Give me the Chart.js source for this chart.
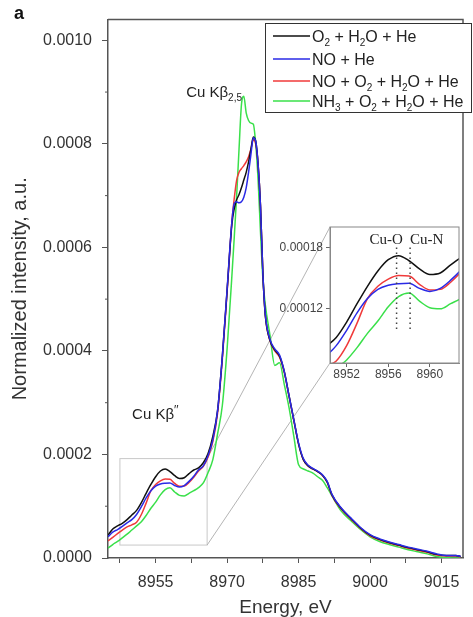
<!DOCTYPE html>
<html>
<head>
<meta charset="utf-8">
<script src="https://cdn.jsdelivr.net/npm/chart.js@4.4.1/dist/chart.umd.min.js"></script>
<style>
  html, body { margin: 0; padding: 0; background: #fff; }
  #wrap { position: relative; width: 473px; height: 617px; }
  #main, #inset { position: absolute; left: 0; top: 0; }
</style>
</head>
<body>
<div id="wrap">
  <canvas id="main" width="473" height="617"></canvas>
  <canvas id="inset" width="200" height="175"></canvas>
</div>
<script>
// Energie (eV)
const energy = [
  8945, 8946, 8947, 8948, 8949, 8950, 8951, 8952, 8953, 8954,
  8955, 8956, 8957, 8958, 8959, 8960, 8961, 8962, 8963, 8964,
  8965, 8966, 8967, 8968, 8969, 8970, 8971, 8971.5, 8972, 8972.5,
  8973, 8973.5, 8974, 8974.5, 8975, 8975.5, 8976, 8976.5, 8977, 8977.5,
  8978, 8979, 8980, 8981, 8982, 8983, 8984, 8985, 8986, 8987,
  8988, 8989, 8990, 8991, 8992, 8994, 8996, 8998, 9000, 9002,
  9004, 9006, 9008, 9010, 9012, 9014, 9016, 9018, 9019
];

// Intensités normalisées, en unités de 1e-4
const o2h2o = [
  0.44, 0.56, 0.62, 0.67, 0.74, 0.83, 0.92, 1.07, 1.25, 1.42,
  1.57, 1.68, 1.72, 1.67, 1.59, 1.535, 1.55, 1.63, 1.70, 1.74,
  1.84, 2.02, 2.35, 2.85, 3.90, 5.17, 6.45, 6.75, 6.92, 7.02,
  7.15, 7.30, 7.45, 7.65, 7.90, 8.13, 8.05, 7.60, 6.80, 5.50,
  4.70, 4.20, 4.02, 3.90, 3.60, 3.13, 2.67, 2.20, 1.90, 1.78,
  1.72, 1.67, 1.60, 1.47, 1.22, 0.95, 0.76, 0.58, 0.44, 0.36,
  0.30, 0.25, 0.20, 0.16, 0.12, 0.07, 0.05, 0.05, 0.03
];
const noHe = [
  0.41, 0.50, 0.55, 0.61, 0.68, 0.74, 0.84, 0.99, 1.16, 1.30,
  1.39, 1.43, 1.445, 1.45, 1.40, 1.37, 1.40, 1.48, 1.58, 1.70,
  1.78, 1.98, 2.28, 2.85, 3.90, 5.20, 6.50, 6.85, 6.88, 6.86,
  6.88, 6.97, 7.15, 7.45, 7.80, 8.12, 8.05, 7.60, 6.80, 5.50,
  4.72, 4.22, 4.04, 3.92, 3.60, 3.13, 2.67, 2.22, 1.92, 1.79,
  1.73, 1.68, 1.61, 1.48, 1.23, 0.96, 0.77, 0.59, 0.45, 0.37,
  0.31, 0.26, 0.21, 0.17, 0.13, 0.08, 0.05, 0.05, 0.03
];
const noO2h2o = [
  0.33, 0.40, 0.47, 0.54, 0.60, 0.64, 0.69, 0.84, 1.06, 1.30,
  1.42, 1.49, 1.525, 1.52, 1.44, 1.385, 1.39, 1.46, 1.56, 1.68,
  1.77, 1.95, 2.25, 2.80, 3.85, 5.15, 6.50, 6.95, 7.30, 7.45,
  7.52, 7.58, 7.65, 7.75, 7.90, 8.08, 8.00, 7.60, 6.80, 5.50,
  4.70, 4.20, 4.00, 3.88, 3.58, 3.12, 2.65, 2.20, 1.90, 1.78,
  1.72, 1.67, 1.60, 1.46, 1.21, 0.94, 0.75, 0.57, 0.43, 0.35,
  0.29, 0.24, 0.19, 0.15, 0.11, 0.06, 0.04, 0.04, 0.02
];
const nh3 = [
  0.19, 0.26, 0.32, 0.39, 0.46, 0.54, 0.62, 0.70, 0.82, 0.96,
  1.08, 1.22, 1.32, 1.355, 1.275, 1.21, 1.20, 1.25, 1.30, 1.36,
  1.45, 1.65, 1.90, 2.40, 2.95, 4.05, 5.45, 6.20, 7.00, 7.90,
  8.75, 8.92, 8.60, 8.45, 8.40, 8.38, 8.00, 7.30, 6.30, 5.40,
  4.90, 4.30, 3.72, 3.77, 3.35, 2.90, 2.35, 1.80, 1.72, 1.68,
  1.64, 1.57, 1.50, 1.36, 1.20, 0.90, 0.72, 0.55, 0.41, 0.32,
  0.26, 0.21, 0.16, 0.12, 0.08, 0.03, 0.01, 0.00, 0.00
];

const seriesNames = ['O₂ + H₂O + He', 'NO + He', 'NO + O₂ + H₂O + He', 'NH₃ + O₂ + H₂O + He'];
const seriesColors = ['#111111', '#2a2ae6', '#f03a3a', '#3ae04a'];
const drawOrder = [1, 0, 2, 3]; // le bleu passe au-dessus

// Graduations
const xTicks = [8947.5, 8955, 8962.5, 8970, 8977.5, 8985, 8992.5, 9000, 9007.5, 9015];
const xTickLabels = [8955, 8970, 8985, 9000, 9015];
const yTicks = [0, 0.0002, 0.0004, 0.0006, 0.0008, 0.0010];
const yTickLabels = ['0.0000', '0.0002', '0.0004', '0.0006', '0.0008', '0.0010'];
const yMinorTicks = [0.0001, 0.0003, 0.0005, 0.0007, 0.0009];
const insetXTicks = [8952, 8956, 8960];
const insetYTicks = [0.00012, 0.00018];
const insetYTickLabels = ['0.00012', '0.00018'];

const fontSans = '"Liberation Sans", Arial, sans-serif';
const fontSerif = '"Liberation Serif", "Times New Roman", serif';
Chart.defaults.font.family = fontSans;

// position de l'encart (pixels de la page)
const insetBox = { left: 330, top: 227, right: 459, bottom: 363 };
// rectangle de zoom sur la figure principale (unités des données)
const zoomBox = { x0: 8947.5, x1: 8965.8, y0: 0.000025, y1: 0.000192 };

const peakLabels = [
  { x: 8961.4, y: 0.00089, parts: [{ text: 'Cu Kβ' }, { text: '2,5', sub: true }] },
  { x: 8950.05, y: 0.000269, parts: [{ text: 'Cu Kβ' }, { text: '′′', sup: true }] }
];
const markers = [
  { x: 8956.8, label: 'Cu-O', labelX: 8954.2 },
  { x: 8958.1, label: 'Cu-N', labelX: 8958.1 }
];

function toParts(str) {
  const subs = { '₂': '2', '₃': '3' };
  const parts = [];
  for (const ch of str) {
    const isSub = ch in subs;
    const t = isSub ? subs[ch] : ch;
    const last = parts[parts.length - 1];
    if (last && !!last.sub === isSub) last.text += t;
    else parts.push({ text: t, sub: isSub });
  }
  return parts;
}

function drawRich(ctx, parts, x, y, size, family) {
  ctx.textBaseline = 'alphabetic';
  ctx.textAlign = 'left';
  parts.forEach(p => {
    const s = p.sub ? Math.round(size * 0.65) : p.sup ? Math.round(size * 0.8) : size;
    ctx.font = s + 'px ' + family;
    const dy = p.sub ? size * 0.28 : p.sup ? -size * 0.3 : 0;
    ctx.fillText(p.text, x, y + dy);
    x += ctx.measureText(p.text).width;
  });
}

const seriesData = [o2h2o, noHe, noO2h2o, nh3];
function makeDatasets(width) {
  return seriesData.map((vals, i) => ({
    label: seriesNames[i],
    data: energy.map((e, j) => ({ x: e, y: vals[j] * 1e-4 })),
    borderColor: seriesColors[i],
    backgroundColor: seriesColors[i],
    borderWidth: width,
    pointRadius: 0,
    cubicInterpolationMode: 'monotone',
    order: drawOrder[i]
  }));
}

const mainDecor = {
  id: 'mainDecor',
  beforeDatasetsDraw(chart) {
    const { ctx, scales: { x, y } } = chart;
    const bx0 = x.getPixelForValue(zoomBox.x0), bx1 = x.getPixelForValue(zoomBox.x1);
    const by0 = y.getPixelForValue(zoomBox.y0), by1 = y.getPixelForValue(zoomBox.y1);
    ctx.save();
    ctx.strokeStyle = '#c8c8c8';
    ctx.lineWidth = 1;
    ctx.strokeRect(bx0, by1, bx1 - bx0, by0 - by1);
    ctx.strokeStyle = '#b4b4b4';
    ctx.beginPath();
    ctx.moveTo(bx1, by1); ctx.lineTo(insetBox.left, insetBox.top);
    ctx.moveTo(bx1, by0); ctx.lineTo(insetBox.left, insetBox.bottom);
    ctx.stroke();
    ctx.restore();
  },
  afterDraw(chart) {
    const { ctx, chartArea: a, scales: { x, y } } = chart;
    ctx.save();
    // cadre haut et droit
    ctx.strokeStyle = '#555';
    ctx.lineWidth = 1.5;
    ctx.beginPath();
    ctx.moveTo(a.left, a.top); ctx.lineTo(a.right, a.top); ctx.lineTo(a.right, a.bottom);
    ctx.stroke();
    // petites graduations y
    ctx.lineWidth = 1;
    yMinorTicks.forEach(v => {
      const py = y.getPixelForValue(v);
      ctx.beginPath(); ctx.moveTo(a.left - 3, py); ctx.lineTo(a.left, py); ctx.stroke();
    });
    // étiquettes des pics
    ctx.fillStyle = '#222';
    peakLabels.forEach(l => drawRich(ctx, l.parts, x.getPixelForValue(l.x), y.getPixelForValue(l.y), 15, fontSans));
    // légende
    const lx = 265, ly = 23, lw = 207, lh = 90;
    ctx.fillStyle = '#fff';
    ctx.fillRect(lx, ly, lw, lh);
    ctx.strokeStyle = '#333';
    ctx.lineWidth = 1;
    ctx.strokeRect(lx + 0.5, ly + 0.5, lw - 1, lh - 1);
    const rows = [42, 65, 87, 107];
    seriesNames.forEach((name, i) => {
      ctx.strokeStyle = seriesColors[i];
      ctx.lineWidth = 1.5;
      ctx.beginPath(); ctx.moveTo(273, rows[i] - 6); ctx.lineTo(310, rows[i] - 6); ctx.stroke();
      ctx.fillStyle = '#222';
      drawRich(ctx, toParts(name), 312, rows[i], 16, fontSans);
    });
    // lettre du panneau
    ctx.fillStyle = '#111';
    ctx.font = 'bold 18px ' + fontSans;
    ctx.fillText('a', 14, 19);
    ctx.restore();
  }
};

new Chart(document.getElementById('main'), {
  type: 'line',
  data: { datasets: makeDatasets(1.5) },
  options: {
    responsive: false,
    animation: false,
    devicePixelRatio: 1,
    layout: { padding: { top: 18, right: 10, left: 0, bottom: 0 } },
    plugins: { legend: { display: false }, tooltip: { enabled: false } },
    scales: {
      x: {
        type: 'linear', min: 8945, max: 9019.5,
        afterBuildTicks: s => { s.ticks = xTicks.map(v => ({ value: v })); },
        afterFit: s => { s.height = 59; },
        ticks: {
          font: { size: 16 }, color: '#333', padding: 10, maxRotation: 0, autoSkip: false,
          callback: v => xTickLabels.includes(v) ? String(v) : ''
        },
        grid: { drawOnChartArea: false, tickLength: 5, tickColor: '#555' },
        border: { color: '#555', width: 1.5 },
        title: { display: true, text: 'Energy, eV', color: '#333',
          font: { size: 19, lineHeight: 1 }, padding: { top: 0, bottom: 0 } }
      },
      y: {
        min: 0, max: 0.00104,
        afterBuildTicks: s => { s.ticks = yTicks.map(v => ({ value: v })); },
        afterFit: s => { s.width = 108; },
        ticks: { font: { size: 16 }, color: '#333', padding: 10,
          callback: (v, i) => yTickLabels[i] },
        grid: { drawOnChartArea: false, tickLength: 6, tickColor: '#555' },
        border: { color: '#555', width: 1.5 },
        title: { display: true, text: 'Normalized intensity, a.u.', color: '#333',
          font: { size: 20, lineHeight: 1 }, padding: { top: 10, bottom: 0 } }
      }
    }
  },
  plugins: [mainDecor]
});

// Encart
const insetCanvas = document.getElementById('inset');
insetCanvas.style.left = (insetBox.left - 60) + 'px';
insetCanvas.style.top = (insetBox.top - 12) + 'px';

const insetDecor = {
  id: 'insetDecor',
  afterDraw(chart) {
    const { ctx, chartArea: a, scales: { x, y } } = chart;
    ctx.save();
    ctx.strokeStyle = '#888';
    ctx.lineWidth = 1;
    ctx.strokeRect(a.left, a.top, a.right - a.left, a.bottom - a.top);
    ctx.strokeStyle = '#444';
    ctx.lineWidth = 1.5;
    ctx.setLineDash([1.5, 3.5]);
    markers.forEach(m => {
      const px = x.getPixelForValue(m.x);
      ctx.beginPath();
      ctx.moveTo(px, y.getPixelForValue(0.00018));
      ctx.lineTo(px, y.getPixelForValue(0.000097));
      ctx.stroke();
    });
    ctx.setLineDash([]);
    ctx.fillStyle = '#222';
    ctx.font = '15px ' + fontSerif;
    ctx.textBaseline = 'alphabetic';
    markers.forEach(m => ctx.fillText(m.label, x.getPixelForValue(m.labelX), y.getPixelForValue(0.000183)));
    ctx.restore();
  }
};

new Chart(insetCanvas, {
  type: 'line',
  data: { datasets: makeDatasets(1.5) },
  options: {
    responsive: false,
    animation: false,
    devicePixelRatio: 1,
    layout: { padding: { top: 12, right: 11, left: 0, bottom: 0 } },
    plugins: { legend: { display: false }, tooltip: { enabled: false } },
    scales: {
      x: {
        type: 'linear', min: 8950.4, max: 8962.8,
        afterBuildTicks: s => { s.ticks = insetXTicks.map(v => ({ value: v })); },
        afterFit: s => { s.height = 27; },
        ticks: { font: { size: 12 }, color: '#444', padding: 0, maxRotation: 0, autoSkip: false,
          callback: v => String(v) },
        grid: { drawOnChartArea: false, tickLength: 4, tickColor: '#666' },
        border: { color: '#888', width: 1 }
      },
      y: {
        min: 0.000067, max: 0.0002,
        afterBuildTicks: s => { s.ticks = insetYTicks.map(v => ({ value: v })); },
        afterFit: s => { s.width = 60; },
        ticks: { font: { size: 12 }, color: '#444', padding: 3,
          callback: (v, i) => insetYTickLabels[i] },
        grid: { drawOnChartArea: false, tickLength: 4, tickColor: '#666' },
        border: { color: '#888', width: 1 }
      }
    }
  },
  plugins: [insetDecor]
});
</script>
</body>
</html>
